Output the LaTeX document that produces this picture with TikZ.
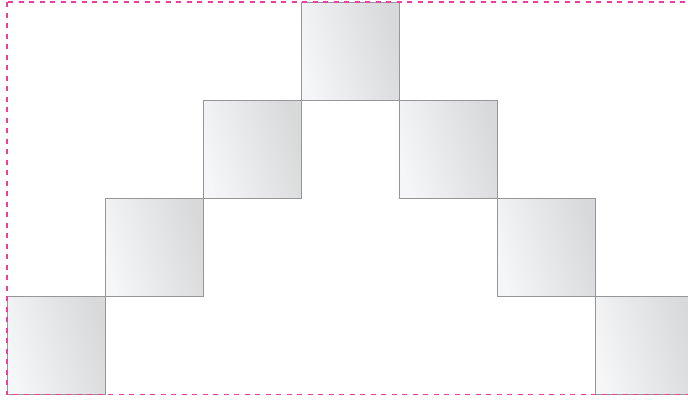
\documentclass[tikz,border=0pt]{standalone}
\begin{document}
\begin{tikzpicture}[x=1pt,y=-1pt,
  sq/.style={draw={rgb,255:red,150;green,150;blue,150}, line width=1pt,
    left color={rgb,255:red,245;green,246;blue,247},
    right color={rgb,255:red,216;green,217;blue,219},
    shading angle=105,
    minimum size=98pt, inner sep=0pt, outer sep=0pt, anchor=north west},
  frame/.style={draw={rgb,255:red,240;green,60;blue,160}, line width=1.2pt,
    dash pattern=on 5pt off 5.5pt}]
\useasboundingbox (0,0) rectangle (688,400);
\clip (0,0) rectangle (688,400);
\node[sq] (s0) at (7,296) {};
\node[sq] (s1) at (105,198) {};
\node[sq] (s2) at (203,100) {};
\node[sq] (s3) at (301,2) {};
\node[sq] (s4) at (399,100) {};
\node[sq] (s5) at (497,198) {};
\node[sq] (s6) at (595,296) {};
\draw[frame] (7,2) rectangle (720,394.5);
\end{tikzpicture}
\end{document}
